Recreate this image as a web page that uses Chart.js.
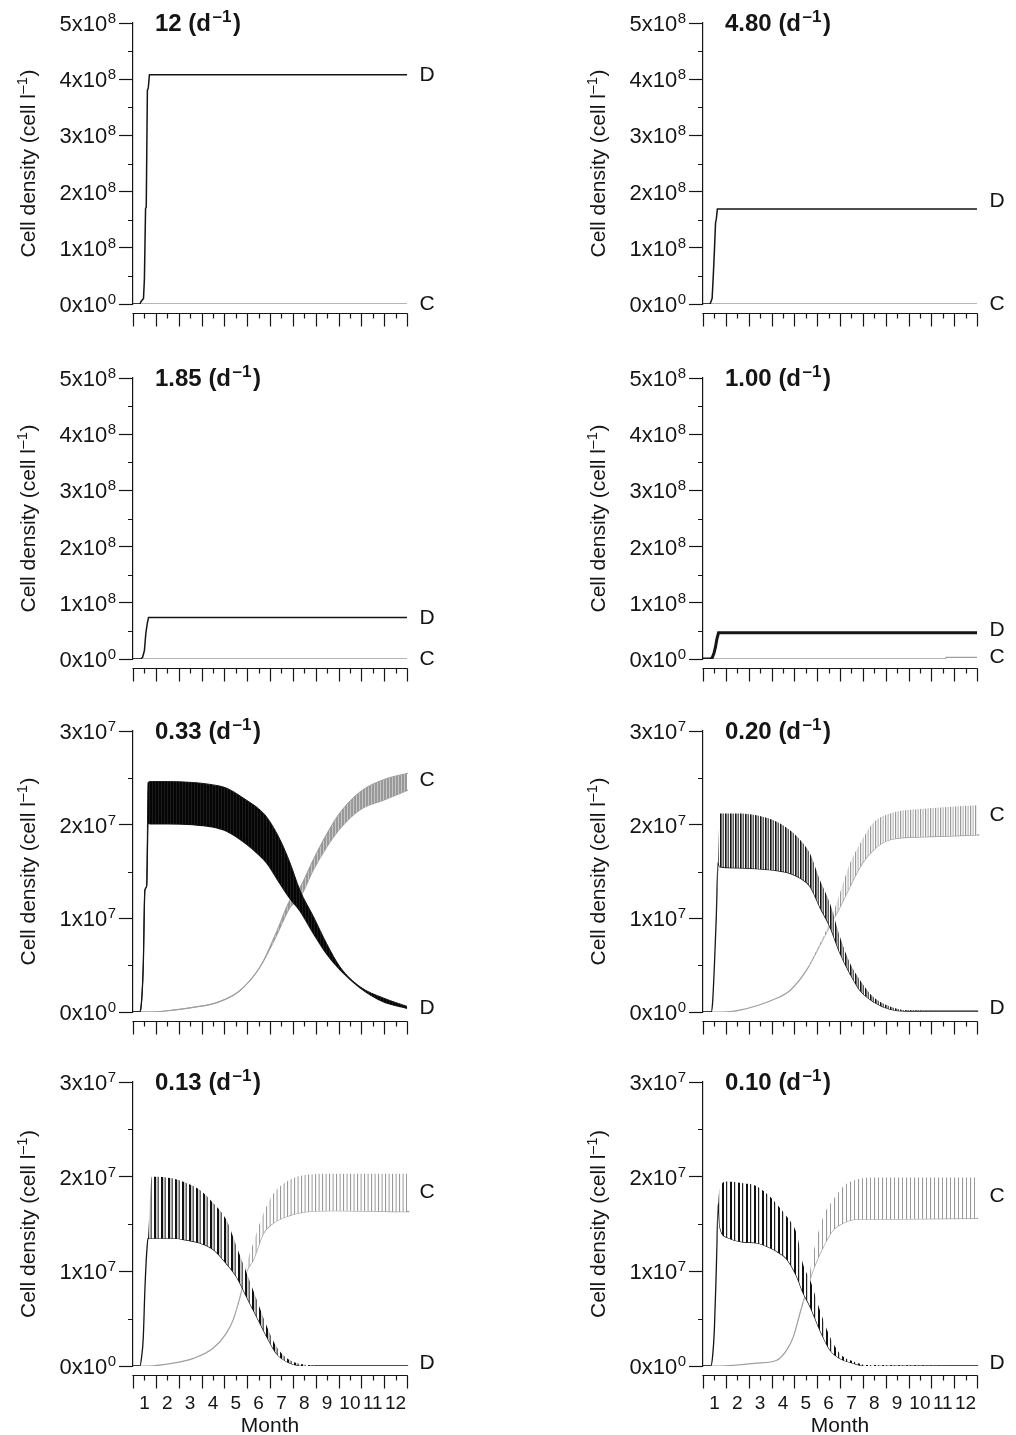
<!DOCTYPE html>
<html><head><meta charset="utf-8">
<style>
html,body{margin:0;padding:0;background:#fff;}
body{width:1016px;height:1435px;position:relative;overflow:hidden;}
canvas{position:absolute;}
</style>
<script src="https://cdn.jsdelivr.net/npm/chart.js@4.4.1/dist/chart.umd.min.js"></script>
</head><body>
<script>
// ================= DATA =================
const panelTitles = ['12', '4.80', '1.85', '1.00', '0.33', '0.20', '0.13', '0.10'];
// y tick labels: [mantissa text, exponent]  (units of 10^8 top rows, 10^7 bottom rows)
const yTickLabelsTop = [['0x10', '0'], ['1x10', '8'], ['2x10', '8'], ['3x10', '8'], ['4x10', '8'], ['5x10', '8']];
const yTickLabelsBottom = [['0x10', '0'], ['1x10', '7'], ['2x10', '7'], ['3x10', '7']];
const monthLabels = ['1', '2', '3', '4', '5', '6', '7', '8', '9', '10', '11', '12'];
const seriesNames = ['D', 'C'];
const yTitle = ['Cell density (cell l', '–1', ')'];
// end-label heights (same units as the panel's y axis)
const endLabelD = [4.08, 1.83, 0.73, 0.52, 0.04, 0.04, 0.03, 0.03];
const endLabelC = [0, 0, 0, 0.03, 2.48, 2.10, 1.84, 1.79];

// --- 12 d-1 (x10^8)
const p1DMonth = [0, 0.30, 0.36, 0.46, 0.50, 0.55, 0.58, 0.63, 0.67, 0.72, 12.0];
const p1D      = [0, 0,    0.05, 0.10, 0.45, 1.70, 1.72, 3.80, 3.85, 4.08, 4.08];
const p1CMonth = [0, 12.0];
const p1C      = [0, 0];
// --- 4.80 d-1 (x10^8)
const p2DMonth = [0, 0.31, 0.40, 0.45, 0.50, 0.55, 0.58, 0.63, 12.0];
const p2D      = [0, 0,    0.10, 0.50, 0.95, 1.45, 1.50, 1.69, 1.69];
const p2CMonth = [0, 12.0];
const p2C      = [0, 0];
// --- 1.85 d-1 (x10^8)
const p3DMonth = [0, 0.33, 0.42, 0.50, 0.56, 0.62, 0.68, 12.0];
const p3D      = [0, 0,    0.03, 0.15, 0.45, 0.62, 0.74, 0.74];
const p3CMonth = [0, 12.0];
const p3C      = [0, 0];
// --- 1.00 d-1 (x10^8)
const p4DMonth = [0, 0.31, 0.40, 0.48, 0.55, 0.60, 0.68, 12.0];
const p4D      = [0, 0,    0.02, 0.10, 0.22, 0.34, 0.467, 0.467];
const p4CMonth = [0, 10.60, 10.65, 12.0];
const p4C      = [0, 0,     0.03,  0.03];
// --- 0.33 d-1 (x10^7) : upper / lower envelope of the oscillation
const p5DMonth = [0, 0.28, 0.35, 0.45, 0.52, 0.60, 0.66, 0.74, 1.50, 2.64, 3.37, 4.10, 4.98, 5.50, 5.86, 6.44, 6.88, 7.31, 7.90, 8.48, 9.07, 9.94, 10.96, 12.00];
const p5DUpper = [0, 0, 0.05, 0.50, 1.30, 1.35, 2.45, 2.46, 2.46, 2.45, 2.43, 2.39, 2.26, 2.17, 2.08, 1.84, 1.59, 1.30, 1.02, 0.73, 0.48, 0.27, 0.15, 0.06];
const p5DLower = [0, 0, 0.05, 0.50, 1.30, 1.35, 2.02, 2.01, 2.01, 2.00, 1.98, 1.93, 1.79, 1.68, 1.59, 1.37, 1.21, 1.08, 0.84, 0.62, 0.45, 0.26, 0.11, 0.04];
const p5CMonth = [0, 0.74, 1.76, 2.64, 3.67, 4.69, 5.56, 6.29, 6.88, 7.31, 7.90, 8.48, 9.07, 9.94, 10.96, 12.05];
const p5CUpper = [0, 0, 0.02, 0.05, 0.10, 0.23, 0.48, 0.86, 1.20, 1.33, 1.63, 1.90, 2.13, 2.35, 2.48, 2.55];
const p5CLower = [0, 0, 0.02, 0.05, 0.10, 0.23, 0.48, 0.82, 1.12, 1.22, 1.52, 1.76, 1.96, 2.16, 2.26, 2.37];
// --- 0.20 d-1 (x10^7)
const p6DMonth = [0, 0.36, 0.42, 0.50, 0.58, 0.66, 0.74, 1.50, 2.35, 3.23, 3.81, 4.25, 4.69, 5.12, 5.56, 6.00, 6.44, 6.88, 7.46, 8.19, 8.92, 12.05];
const p6DUpper = [0, 0, 0.10, 0.50, 1.00, 1.60, 2.12, 2.12, 2.10, 2.03, 1.94, 1.84, 1.69, 1.41, 1.16, 0.80, 0.52, 0.34, 0.16, 0.06, 0.02, 0.01];
const p6DLower = [0, 0, 0.10, 0.50, 1.00, 1.60, 1.55, 1.54, 1.53, 1.51, 1.48, 1.43, 1.34, 1.12, 0.91, 0.63, 0.41, 0.23, 0.11, 0.03, 0.01, 0.01];
const p6CMonth = [0, 0.80, 1.62, 3.07, 3.81, 4.54, 5.26, 5.69, 6.00, 6.44, 6.88, 7.46, 8.19, 9.65, 12.10];
const p6CUpper = [0, 0, 0.02, 0.13, 0.23, 0.45, 0.80, 1.05, 1.27, 1.59, 1.80, 2.02, 2.12, 2.17, 2.21];
const p6CLower = [0, 0, 0.02, 0.13, 0.23, 0.45, 0.78, 0.98, 1.12, 1.34, 1.55, 1.73, 1.84, 1.87, 1.89];
// --- 0.13 d-1 (x10^7)
const p7DMonth = [0, 0.30, 0.38, 0.45, 0.52, 0.60, 0.66, 0.82, 1.77, 2.35, 2.93, 3.52, 4.10, 4.54, 4.98, 5.42, 5.86, 6.29, 6.88, 7.61, 8.20, 12.05];
const p7DUpper = [0, 0, 0.10, 0.30, 0.80, 1.20, 1.35, 2.00, 1.98, 1.93, 1.86, 1.72, 1.54, 1.26, 0.98, 0.70, 0.42, 0.20, 0.06, 0.01, 0, 0];
const p7DLower = [0, 0, 0.10, 0.30, 0.80, 1.20, 1.35, 1.35, 1.35, 1.33, 1.30, 1.23, 1.08, 0.94, 0.73, 0.52, 0.31, 0.13, 0.03, 0, 0, 0];
const p7CMonth = [0, 0.66, 1.77, 2.64, 3.52, 4.10, 4.39, 4.69, 4.98, 5.27, 5.71, 6.15, 6.73, 7.61, 8.77, 12.10];
const p7CUpper = [0, 0, 0.03, 0.08, 0.19, 0.35, 0.49, 0.73, 1.08, 1.30, 1.61, 1.82, 1.95, 2.02, 2.03, 2.03];
const p7CLower = [0, 0, 0.03, 0.08, 0.19, 0.35, 0.49, 0.73, 1.00, 1.12, 1.40, 1.51, 1.58, 1.63, 1.64, 1.63];
// --- 0.10 d-1 (x10^7)
const p8DMonth = [0, 0.34, 0.42, 0.50, 0.58, 0.67, 0.74, 1.04, 1.77, 2.35, 2.93, 3.37, 3.67, 4.10, 4.39, 4.69, 5.12, 5.56, 6.00, 6.58, 7.17, 12.05];
const p8DUpper = [0, 0, 0.10, 0.40, 1.00, 1.72, 1.88, 1.95, 1.93, 1.90, 1.79, 1.67, 1.58, 1.40, 1.07, 0.91, 0.59, 0.31, 0.13, 0.05, 0.01, 0];
const p8DLower = [0, 0, 0.10, 0.40, 1.00, 1.72, 1.47, 1.36, 1.31, 1.30, 1.25, 1.19, 1.13, 0.95, 0.77, 0.63, 0.38, 0.17, 0.08, 0.03, 0, 0];
const p8CMonth = [0, 0.74, 2.35, 3.23, 3.67, 3.96, 4.25, 4.54, 4.83, 5.27, 5.71, 6.15, 6.73, 7.61, 12.05];
const p8CUpper = [0, 0, 0.03, 0.06, 0.17, 0.31, 0.56, 0.80, 1.19, 1.58, 1.76, 1.90, 1.97, 1.99, 1.99];
const p8CLower = [0, 0, 0.03, 0.06, 0.17, 0.31, 0.56, 0.80, 1.02, 1.26, 1.44, 1.51, 1.55, 1.55, 1.56];

// ================= STYLE / LAYOUT =================
const FONT = '"Liberation Sans", Arial, Helvetica, sans-serif';
const INK = '#151515';
const GREY = '#9e9e9e';
Chart.defaults.font.family = FONT;
Chart.defaults.color = INK;
Chart.defaults.animation = false;

const colLeft = [0, 570];
const rowTop = [0, 355, 708, 1059];
const rowHeight = [339, 339, 339, 376];
const xAxisHeight = [35, 35, 35, 69];
const CW = 446;

// stripe patterns imitating the dense oscillations
const stripeStyles = [
  null, null, null, null,
  {D: {p: 3, bg: '#1c1c1c', s: [[0, 2, '#050505']]}, C: {p: 3, bg: '#c4c4c4', s: [[0, 2, '#999']]}},
  {D: {p: 5, bg: '#ffffff', s: [[0, 1.6, '#111'], [2.6, 1.2, '#333']]}, C: {p: 5, bg: '#ffffff', s: [[0, 1.2, '#999'], [2.6, 1, '#aaa']]}},
  {D: {p: 7, bg: '#ffffff', s: [[0, 2.2, '#111'], [3.6, 1.1, '#222']]}, C: {p: 7, bg: '#ffffff', s: [[0, 1.1, '#999'], [3.6, 1, '#9a9a9a']]}},
  {D: {p: 8, bg: '#ffffff', s: [[0, 2.0, '#111'], [4, 1.2, '#222']]}, C: {p: 8, bg: '#ffffff', s: [[0, 1.1, '#999'], [4, 1, '#9a9a9a']]}}
];
function makePattern(ctx, st) {
  const c = document.createElement('canvas');
  c.width = st.p; c.height = 8;
  const g = c.getContext('2d');
  g.fillStyle = st.bg; g.fillRect(0, 0, st.p, 8);
  st.s.forEach(([x, w, col]) => { g.fillStyle = col; g.fillRect(x, 0, w, 8); });
  return ctx.createPattern(c, 'repeat');
}
const pts = (xs, ys) => xs.map((x, i) => ({x, y: ys[i]}));

const simpleData = [
  [p1DMonth, p1D, p1CMonth, p1C],
  [p2DMonth, p2D, p2CMonth, p2C],
  [p3DMonth, p3D, p3CMonth, p3C],
  [p4DMonth, p4D, p4CMonth, p4C]
];
const bandData = [
  null, null, null, null,
  [p5DMonth, p5DUpper, p5DLower, p5CMonth, p5CUpper, p5CLower],
  [p6DMonth, p6DUpper, p6DLower, p6CMonth, p6CUpper, p6CLower],
  [p7DMonth, p7DUpper, p7DLower, p7CMonth, p7CUpper, p7CLower],
  [p8DMonth, p8DUpper, p8DLower, p8CMonth, p8CUpper, p8CLower]
];

// text with a raised exponent: parts = [[text, font, dy, gapAfter], ...]
function drawParts(ctx, parts, x, y) {
  parts.forEach(([t, f, dy, g]) => { ctx.font = f; ctx.fillText(t, x, y + dy); x += ctx.measureText(t).width + (g || 0); });
}
function partsWidth(ctx, parts) {
  let w = 0; parts.forEach(([t, f, dy, g]) => { ctx.font = f; w += ctx.measureText(t).width + (g || 0); }); return w;
}

const decor = {
  id: 'decor',
  afterDraw(chart, args, o) {
    const {ctx, chartArea: a, scales: {x, y}} = chart;
    ctx.save();
    ctx.strokeStyle = INK; ctx.lineWidth = 1.2;
    ctx.beginPath();
    const yt = y.ticks;
    for (let i = 0; i < yt.length - 1; i++) {
      const py = Math.round(y.getPixelForValue((yt[i].value + yt[i + 1].value) / 2)) + 0.5;
      ctx.moveTo(a.left - 5, py); ctx.lineTo(a.left, py);
    }
    const ay = Math.round(a.bottom + 8.5) + 0.5;
    ctx.moveTo(a.left - 0.6, ay); ctx.lineTo(a.right + 0.6, ay);
    x.ticks.forEach(t => {
      const px = Math.round(x.getPixelForValue(t.value)) + 0.5;
      const len = Math.abs(t.value - Math.round(t.value)) < 1e-6 ? 13 : 5;
      ctx.moveTo(px, ay); ctx.lineTo(px, ay + len);
    });
    ctx.stroke();
    ctx.fillStyle = INK;
    ctx.textAlign = 'left'; ctx.textBaseline = 'alphabetic';
    // y tick labels with superscript exponent, right-aligned 17px left of the axis
    yt.forEach((t, idx) => {
      const lab = o.yLabels[idx]; if (!lab) return;
      const parts = [[lab[0], '22px ' + FONT, 0, 0.5], [lab[1], '15px ' + FONT, -8, 0]];
      const w = partsWidth(ctx, parts);
      drawParts(ctx, parts, a.left - 17 - w, y.getPixelForValue(t.value) + 8);
    });
    // y axis title (rotated)
    ctx.save();
    const cy = (a.top + a.bottom) / 2;
    ctx.translate(35, cy); ctx.rotate(-Math.PI / 2);
    const tp = [[yTitle[0], '21px ' + FONT, 0, 0.5], [yTitle[1], '15px ' + FONT, -8, 0.5], [yTitle[2], '21px ' + FONT, 0, 0]];
    drawParts(ctx, tp, -partsWidth(ctx, tp) / 2, 0);
    ctx.restore();
    // end labels D / C
    ctx.font = '21px ' + FONT;
    ctx.textAlign = 'center'; ctx.textBaseline = 'middle';
    o.ends.forEach(e => ctx.fillText(e.t, a.right + 20, y.getPixelForValue(e.v)));
    // panel title "xx (d–1)"
    ctx.textAlign = 'left'; ctx.textBaseline = 'alphabetic';
    drawParts(ctx, [[o.title + ' (d', 'bold 24px ' + FONT, 0, 1.5], ['–1', 'bold 17px ' + FONT, -9, 1.5], [')', 'bold 24px ' + FONT, 0, 0]], a.left + 22, a.top + 8);
    ctx.restore();
  }
};

for (let i = 0; i < 8; i++) {
  const col = i % 2, row = Math.floor(i / 2);
  const cv = document.createElement('canvas');
  cv.width = CW; cv.height = rowHeight[row];
  cv.style.left = colLeft[col] + 'px'; cv.style.top = rowTop[row] + 'px';
  document.body.appendChild(cv);
  const ctx = cv.getContext('2d');
  const bottomRow = row === 3;
  const top = row < 2;
  let datasets;
  if (!bandData[i]) {
    const [dm, dv, cm, cvv] = simpleData[i];
    datasets = [
      {label: seriesNames[0], data: pts(dm, dv), borderColor: INK, borderWidth: i === 3 ? 3 : 1.5, fill: false},
      {label: seriesNames[1], data: pts(cm, cvv), borderColor: GREY, borderWidth: 1.3, fill: false}
    ];
  } else {
    const [dm, du, dl, cm, cu, cl] = bandData[i];
    const st = stripeStyles[i];
    datasets = [
      {label: seriesNames[0] + ' max', data: pts(dm, du), borderColor: i === 4 ? INK : 'rgba(0,0,0,0)', borderWidth: 1, fill: '+1', backgroundColor: makePattern(ctx, st.D)},
      {label: seriesNames[0] + ' min', data: pts(dm, dl), borderColor: INK, borderWidth: 1.3, fill: false},
      {label: seriesNames[1] + ' max', data: pts(cm, cu), borderColor: i === 4 ? GREY : 'rgba(0,0,0,0)', borderWidth: 1, fill: '+1', backgroundColor: makePattern(ctx, st.C)},
      {label: seriesNames[1] + ' min', data: pts(cm, cl), borderColor: GREY, borderWidth: 1.2, fill: false}
    ];
    datasets.forEach(d => { d.cubicInterpolationMode = 'monotone'; });
  }
  datasets.forEach(d => { d.pointRadius = 0; d.clip = {left: 0, top: 0, right: 6, bottom: 0}; });
  new Chart(cv, {
    type: 'line',
    data: {datasets},
    options: {
      responsive: false,
      animation: false,
      events: [],
      layout: {padding: {top: 23, right: CW - 407, bottom: 0, left: 0}},
      plugins: {
        legend: {display: false}, tooltip: {enabled: false},
        decor: {title: panelTitles[i], yLabels: top ? yTickLabelsTop : yTickLabelsBottom,
                ends: [{t: seriesNames[0], v: endLabelD[i]}, {t: seriesNames[1], v: endLabelC[i]}]}
      },
      scales: {
        x: {
          type: 'linear', min: 0, max: 12,
          grid: {display: false}, border: {display: false},
          ticks: {
            display: bottomRow, stepSize: 0.5, autoSkip: false, maxRotation: 0, padding: 18,
            font: {size: 19},
            callback: v => (Math.abs(v % 1 - 0.5) < 1e-6 ? monthLabels[Math.floor(v)] : '')
          },
          title: {display: bottomRow, text: 'Month', font: {size: 21, lineHeight: 0.85}, padding: {top: 0, bottom: 0}},
          afterFit: s => { s.height = xAxisHeight[row]; }
        },
        y: {
          min: 0, max: top ? 5 : 3,
          grid: {display: true, drawOnChartArea: false, drawTicks: true, tickLength: 14, tickColor: INK, tickWidth: 1.2},
          border: {display: true, color: INK, width: 1.2},
          ticks: {stepSize: 1, display: false},
          afterFit: s => { s.width = 133; }
        }
      }
    },
    plugins: [decor]
  });
}
</script>
</body></html>
